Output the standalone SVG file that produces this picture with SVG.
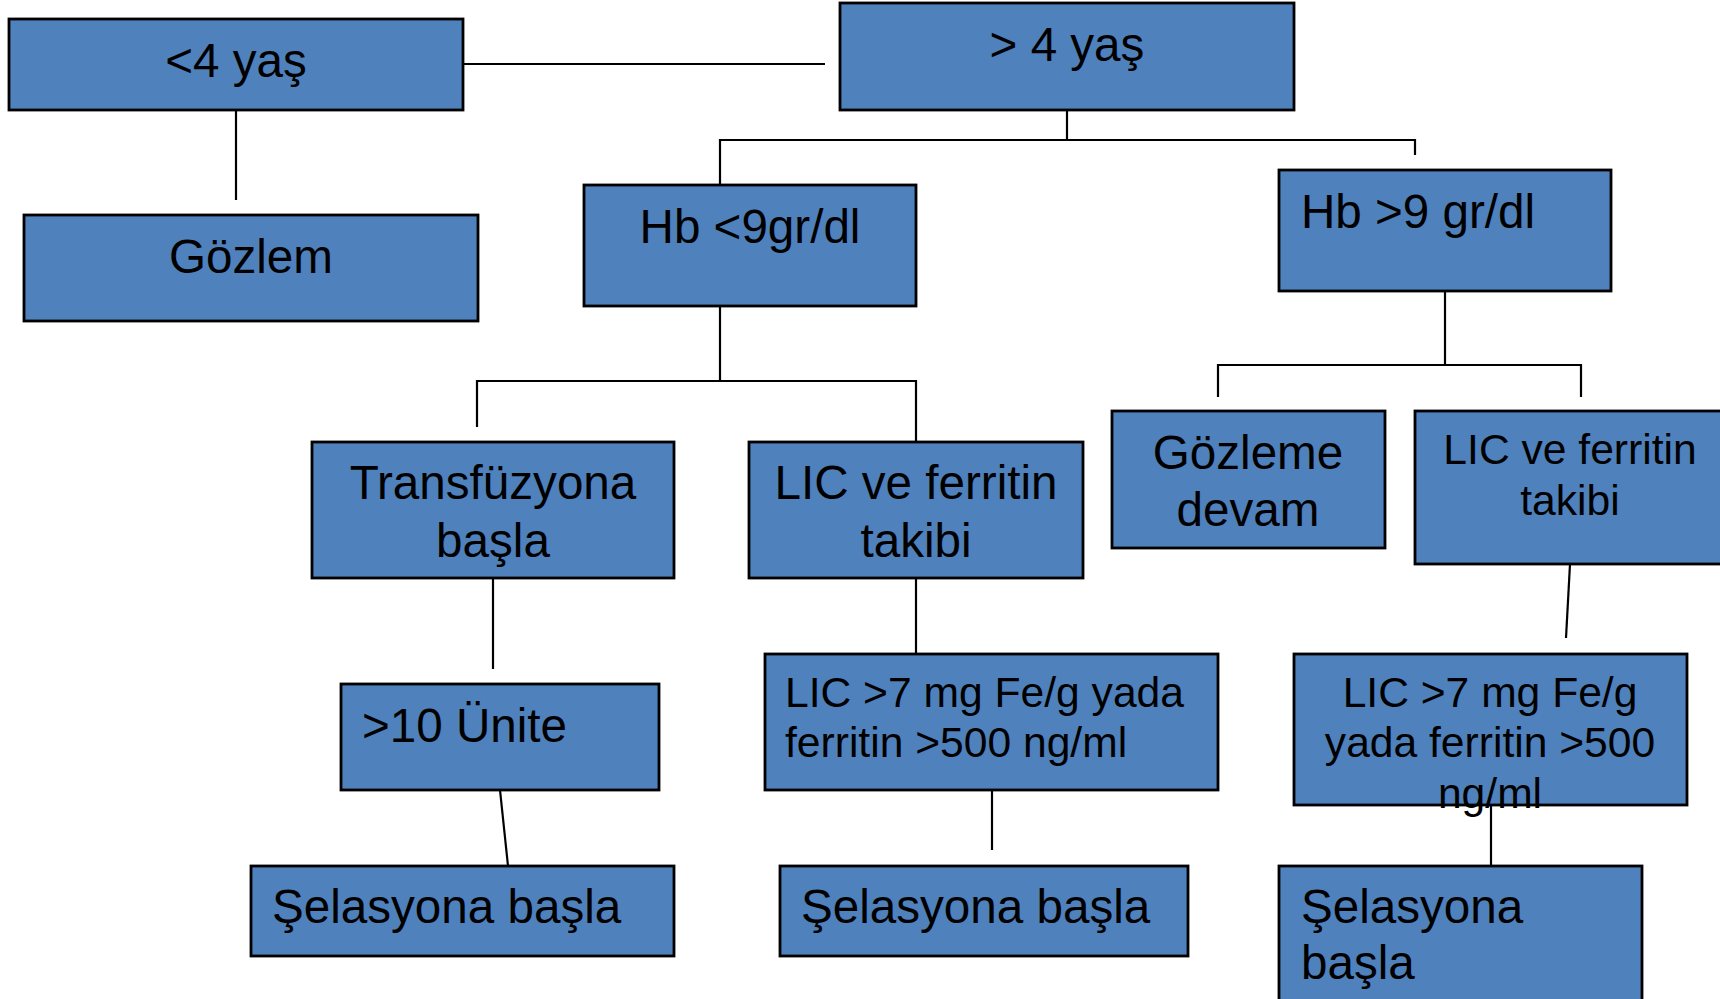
<svg xmlns="http://www.w3.org/2000/svg" width="1720" height="999" viewBox="0 0 1720 999">
<style>
.box{fill:#4F81BD;stroke:#000;stroke-width:2.8}
.t{font-family:"Liberation Sans",Arial,sans-serif;fill:#000}
.c{text-anchor:middle}
.f47{font-size:47.6px}
.f42{font-size:42.6px}
.ln{stroke:#000;stroke-width:2.2;fill:none}
</style>
<rect width="1720" height="999" fill="#fff"/>
<g id="connectors">
<line class="ln" x1="463" y1="64" x2="825" y2="64"/>
<line class="ln" x1="236" y1="110" x2="236" y2="200"/>
<polyline class="ln" points="1067,110 1067,140"/>
<polyline class="ln" points="720,185 720,140 1415,140 1415,155"/>
<polyline class="ln" points="720,306 720,381"/>
<polyline class="ln" points="477,427 477,381 916,381 916,442"/>
<line class="ln" x1="493" y1="578" x2="493" y2="669"/>
<line class="ln" x1="916" y1="578" x2="916" y2="654"/>
<line class="ln" x1="1445" y1="291" x2="1445" y2="365"/>
<polyline class="ln" points="1218,397 1218,365 1581,365 1581,397"/>
<line class="ln" x1="1570" y1="564" x2="1566" y2="638"/>
<line class="ln" x1="500" y1="790" x2="508" y2="866"/>
<line class="ln" x1="992" y1="790" x2="992" y2="850"/>
<line class="ln" x1="1491" y1="805" x2="1491" y2="866"/>
</g>
<g id="n1"><rect class="box" x="9" y="19" width="454" height="91"/><text class="t c f47" x="236" y="77">&lt;4 yaş</text></g>
<g id="n2"><rect class="box" x="840" y="3" width="454" height="107"/><text class="t c f47" x="1067" y="61">&gt; 4 yaş</text></g>
<g id="n3"><rect class="box" x="24" y="215" width="454" height="106"/><text class="t c f47" x="251" y="273">Gözlem</text></g>
<g id="n4"><rect class="box" x="584" y="185" width="332" height="121"/><text class="t c f47" x="750" y="243">Hb &lt;9gr/dl</text></g>
<g id="n5"><rect class="box" x="1279" y="170" width="332" height="121"/><text class="t f47" x="1301" y="228">Hb &gt;9 gr/dl</text></g>
<g id="n6"><rect class="box" x="312" y="442" width="362" height="136"/><text class="t c f47" x="493" y="499">Transfüzyona</text><text class="t c f47" x="493" y="557">başla</text></g>
<g id="n7"><rect class="box" x="749" y="442" width="334" height="136"/><text class="t c f47" x="916" y="499">LIC ve ferritin</text><text class="t c f47" x="916" y="557">takibi</text></g>
<g id="n8"><rect class="box" x="1112" y="411" width="273" height="137"/><text class="t c f47" x="1248" y="469">Gözleme</text><text class="t c f47" x="1248" y="526">devam</text></g>
<g id="n9"><rect class="box" x="1415" y="411" width="320" height="153"/><text class="t c f42" x="1570" y="464">LIC ve ferritin</text><text class="t c f42" x="1570" y="515">takibi</text></g>
<g id="n10"><rect class="box" x="341" y="684" width="318" height="106"/><text class="t f47" x="362" y="742">&gt;10 Ünite</text></g>
<g id="n11"><rect class="box" x="765" y="654" width="453" height="136"/><text class="t f42" x="785" y="707">LIC &gt;7 mg Fe/g yada</text><text class="t f42" x="785" y="757">ferritin &gt;500 ng/ml</text></g>
<g id="n12"><rect class="box" x="1294" y="654" width="393" height="151"/><text class="t c f42" x="1490" y="707">LIC &gt;7 mg Fe/g</text><text class="t c f42" x="1490" y="757">yada ferritin &gt;500</text><text class="t c f42" x="1490" y="808">ng/ml</text></g>
<g id="n13"><rect class="box" x="251" y="866" width="423" height="90"/><text class="t f47" x="272" y="923">Şelasyona başla</text></g>
<g id="n14"><rect class="box" x="780" y="866" width="408" height="90"/><text class="t f47" x="801" y="923">Şelasyona başla</text></g>
<g id="n15"><rect class="box" x="1279" y="866" width="363" height="150"/><text class="t f47" x="1301" y="923">Şelasyona</text><text class="t f47" x="1301" y="979">başla</text></g>
</svg>
